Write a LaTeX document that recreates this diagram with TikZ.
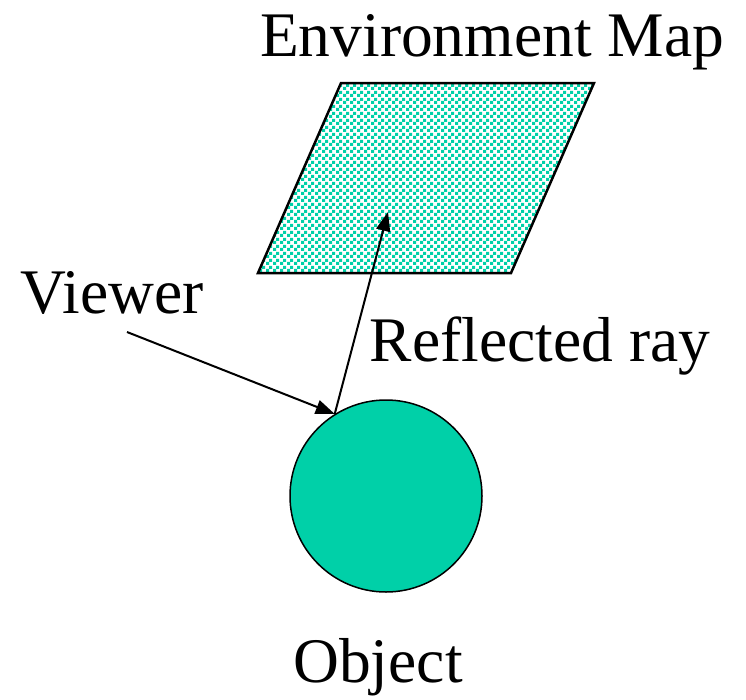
\documentclass[tikz,border=0pt]{standalone}
\usepackage{fontspec}
\setmainfont{Liberation Serif}
\usetikzlibrary{arrows.meta, patterns.meta, positioning}
\definecolor{mapteal}{RGB}{0,208,168}
\tikzdeclarepattern{
  name=envcheck,
  type=uncolored,
  bounding box={(0,0) and (7pt,7pt)},
  tile size={(7pt,7pt)},
  code={\fill (0,0) rectangle (3.5pt,3.5pt) (3.5pt,3.5pt) rectangle (7pt,7pt);}
}
\begin{document}
\begin{tikzpicture}[
        x=1pt, y=-1pt,
        caption/.style={font=\fontsize{63.5}{70}\selectfont, inner sep=0pt, anchor=base},
        ball/.style={circle, draw, line width=1.5pt, fill=mapteal, minimum size=192pt, inner sep=0pt},
        envmap/.style={draw, line width=2.5pt, pattern={envcheck}, pattern color=mapteal},
        ray/.style={draw, line width=2pt, -{Triangle[length=19pt,width=14pt]}}
    ]
        \useasboundingbox (0,0) rectangle (746,699);

        % Environment map (checkered parallelogram)
        \coordinate (mapnw) at (341,83);
        \coordinate (mapne) at (594,83);
        \coordinate (mapse) at (511,273);
        \coordinate (mapsw) at (258,273);
        \path [envmap] (mapnw) -- (mapne) -- (mapse) -- (mapsw) -- cycle;

        % Object
        \node [ball] (object) at (386,496) {};

        % Labels
        \node [caption] (maplabel) at (492,56) {Environment Map};
        \node [caption] (viewer) at (112,313) {Viewer};
        \node [caption] (reflabel) at (540,361) {Reflected ray};
        \node [caption] (objlabel) at (378,682) {Object};

        % Rays
        \coordinate (eye) at (127,332);
        \coordinate (hit) at (object.122);
        \coordinate (mappt) at (388,212);
        \path [ray] (eye) -- (hit);
        \path [ray] (hit) -- (mappt);
    \end{tikzpicture}
\end{document}
